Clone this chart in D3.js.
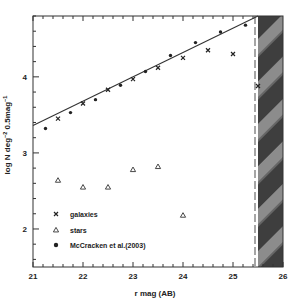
<!DOCTYPE html>
<html>
<head>
<meta charset="utf-8">
<script src="https://cdn.jsdelivr.net/npm/d3@7"></script>
<style>
  body { margin: 0; background: #fff; }
  text { font-family: "Liberation Sans", Arial, sans-serif; font-weight: bold; fill: #222; }
</style>
</head>
<body>
<div id="chart"></div>
<script>
// galaxy counts (crosses), stars (triangles), McCracken et al. (dots)
const galMag = [21.5, 22, 22.5, 23, 23.5, 24, 24.5, 25, 25.5];
const galLogN = [3.45, 3.65, 3.83, 3.97, 4.12, 4.25, 4.35, 4.30, 3.88];
const starMag = [21.5, 22, 22.5, 23, 23.5, 24];
const starLogN = [2.64, 2.55, 2.55, 2.78, 2.82, 2.18];
const mcMag = [21.25, 21.75, 22.25, 22.75, 23.25, 23.75, 24.25, 24.75, 25.25];
const mcLogN = [3.32, 3.53, 3.70, 3.89, 4.07, 4.28, 4.45, 4.59, 4.68];
const fitLine = [[21, 3.36], [25.5, 4.80]];
const limitMag = 25.44;
const hatchFrom = 25.5;
const xTicks = [21, 22, 23, 24, 25, 26];
const yTicks = [2, 3, 4];
const legendItems = ["galaxies", "stars", "McCracken et al.(2003)"];

const width = 300, height = 300;
const x = d3.scaleLinear().domain([21, 26]).range([33, 283]);
const y = d3.scaleLinear().domain([1.5, 4.8]).range([267, 16]);

const svg = d3.select("#chart").append("svg")
    .attr("width", width)
    .attr("height", height);

// hatched region pattern
const defs = svg.append("defs");
const pat = defs.append("pattern")
    .attr("id", "hatch")
    .attr("patternUnits", "userSpaceOnUse")
    .attr("width", 30).attr("height", 30)
    .attr("patternTransform", "rotate(45)");
pat.append("rect").attr("width", 30).attr("height", 30).attr("fill", "#3e3e3e");
pat.append("rect").attr("x", 0).attr("width", 11).attr("height", 30).attr("fill", "#8c8c8c");
pat.append("rect").attr("x", 11).attr("width", 2).attr("height", 30).attr("fill", "#666");

svg.append("rect")
    .attr("x", x(hatchFrom))
    .attr("y", y(4.8))
    .attr("width", x(26) - x(hatchFrom))
    .attr("height", y(1.5) - y(4.8))
    .attr("fill", "url(#hatch)");

// dashed completeness limit
svg.append("line")
    .attr("x1", x(limitMag)).attr("x2", x(limitMag))
    .attr("y1", y(4.8)).attr("y2", y(1.5))
    .attr("stroke", "#777")
    .attr("stroke-width", 1.3)
    .attr("stroke-dasharray", "8,3");

// frame
svg.append("rect")
    .attr("x", x(21)).attr("y", y(4.8))
    .attr("width", x(26) - x(21))
    .attr("height", y(1.5) - y(4.8))
    .attr("fill", "none")
    .attr("stroke", "#333")
    .attr("stroke-width", 1);

// ticks
const xMinor = d3.range(21, 26.001, 0.2);
const yMinor = d3.range(1.6, 4.801, 0.2);
const isMajor = v => Math.abs(v - Math.round(v)) < 1e-6;

svg.append("g").selectAll("line")
    .data(xMinor)
    .enter().append("line")
    .attr("x1", d => x(d)).attr("x2", d => x(d))
    .attr("y1", y(1.5)).attr("y2", d => y(1.5) - (isMajor(d) ? 5 : 3))
    .attr("stroke", "#333");

svg.append("g").selectAll("line")
    .data(xMinor.filter(d => d < hatchFrom))
    .enter().append("line")
    .attr("x1", d => x(d)).attr("x2", d => x(d))
    .attr("y1", y(4.8)).attr("y2", d => y(4.8) + (isMajor(d) ? 5 : 3))
    .attr("stroke", "#333");

svg.append("g").selectAll("line")
    .data(yMinor)
    .enter().append("line")
    .attr("x1", x(21)).attr("x2", d => x(21) + (isMajor(d) ? 6 : 3))
    .attr("y1", d => y(d)).attr("y2", d => y(d))
    .attr("stroke", "#333");

// tick labels
svg.append("g").selectAll("text")
    .data(xTicks)
    .enter().append("text")
    .attr("x", d => x(d))
    .attr("y", 279)
    .attr("text-anchor", "middle")
    .attr("font-size", 8)
    .text(d => d);

svg.append("g").selectAll("text")
    .data(yTicks)
    .enter().append("text")
    .attr("x", 27)
    .attr("y", d => y(d) + 3)
    .attr("text-anchor", "end")
    .attr("font-size", 8)
    .text(d => d);

// axis titles
svg.append("text")
    .attr("x", 155).attr("y", 296)
    .attr("text-anchor", "middle")
    .attr("font-size", 8)
    .text("r mag (AB)");

const yTitle = svg.append("text")
    .attr("transform", "translate(10,135) rotate(-90)")
    .attr("text-anchor", "middle")
    .attr("font-size", 8);
yTitle.append("tspan").text("log N deg");
yTitle.append("tspan").attr("dy", -3).attr("font-size", 5.5).text("−2");
yTitle.append("tspan").attr("dy", 3).text(" 0.5mag");
yTitle.append("tspan").attr("dy", -3).attr("font-size", 5.5).text("−1");

// fit line
svg.append("path")
    .datum(fitLine)
    .attr("d", d3.line().x(d => x(d[0])).y(d => y(d[1])))
    .attr("fill", "none")
    .attr("stroke", "#333")
    .attr("stroke-width", 1.1);

const cross = (cx, cy, s) => `M${cx - s},${cy - s}L${cx + s},${cy + s}M${cx - s},${cy + s}L${cx + s},${cy - s}`;
const tri = (cx, cy, s) => `M${cx},${cy - s}L${cx + s},${cy + s * 0.75}L${cx - s},${cy + s * 0.75}Z`;

// McCracken points
svg.append("g").selectAll("circle")
    .data(mcMag)
    .enter().append("circle")
    .attr("cx", d => x(d))
    .attr("cy", (d, i) => y(mcLogN[i]))
    .attr("r", 1.7)
    .attr("fill", "#222");

// galaxies
svg.append("g").selectAll("path")
    .data(galMag)
    .enter().append("path")
    .attr("d", (d, i) => cross(x(d), y(galLogN[i]), 2))
    .attr("stroke", "#222")
    .attr("stroke-width", 1.2);

// stars
svg.append("g").selectAll("path")
    .data(starMag)
    .enter().append("path")
    .attr("d", (d, i) => tri(x(d), y(starLogN[i]), 2.6))
    .attr("fill", "none")
    .attr("stroke", "#333")
    .attr("stroke-width", 0.9);

// legend
const legendY = [214, 230, 245];
const lg = svg.append("g");
lg.append("path").attr("d", cross(56, legendY[0], 2)).attr("stroke", "#222").attr("stroke-width", 1.2);
lg.append("path").attr("d", tri(56, legendY[1], 2.6)).attr("fill", "none").attr("stroke", "#333").attr("stroke-width", 0.9);
lg.append("circle").attr("cx", 56).attr("cy", legendY[2]).attr("r", 2.2).attr("fill", "#222");
lg.selectAll("text")
    .data(legendItems)
    .enter().append("text")
    .attr("x", 70)
    .attr("y", (d, i) => legendY[i] + 2.5)
    .attr("font-size", 7)
    .text(d => d);
</script>
</body>
</html>
